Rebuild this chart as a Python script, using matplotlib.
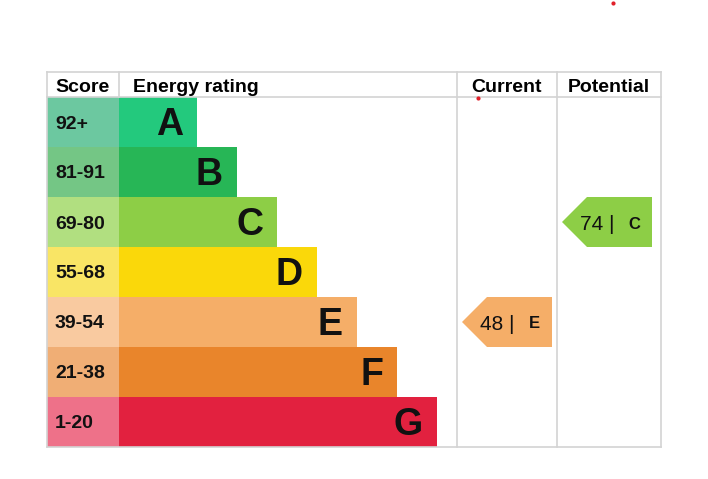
import matplotlib
matplotlib.use("Agg")
import matplotlib.pyplot as plt
from matplotlib.patches import Rectangle, Polygon

plt.rcParams['font.family'] = ['Liberation Sans', 'DejaVu Sans']

letters = ["A", "B", "C", "D", "E", "F", "G"]
score_ranges = ["92+", "81-91", "69-80", "55-68", "39-54", "21-38", "1-20"]
bar_colors = ["#23c97d", "#27b656", "#8dce46", "#fad80a", "#f5ae68", "#e9852b", "#e2213f"]
score_colors = ["#6cc8a0", "#74c685", "#b1df80", "#f9e565", "#f9caa0", "#f0ae75", "#ee7189"]
current_score, current_letter = 48, "E"
potential_score, potential_letter = 74, "C"

W, H = 708, 479
fig = plt.figure(figsize=(W / 100, H / 100), dpi=100)
ax = fig.add_axes([0, 0, 1, 1])
ax.set_xlim(0, W)
ax.set_ylim(H, 0)
ax.axis("off")

left, score_r, bars_r, cur_r, right = 47, 119, 457, 557, 661
top, head_b, row_h = 72, 97, 50
grid = "#d3d3d3"

# rows
for i, (lt, sr, bc, sc) in enumerate(zip(letters, score_ranges, bar_colors, score_colors)):
    y0 = head_b + i * row_h
    ax.add_patch(Rectangle((left, y0), score_r - left, row_h, color=sc, lw=0))
    bar_end = 197 + 40 * i
    ax.add_patch(Rectangle((score_r, y0), bar_end - score_r, row_h, color=bc, lw=0))
    ax.text(left + 8, y0 + row_h / 2 + 2, sr, ha="left", va="center",
            fontsize=14, fontweight="bold", color="#111111")
    ax.text(bar_end - 14, y0 + row_h / 2 + 3, lt, ha="right", va="center",
            fontsize=27, fontweight="bold", color="#111111")

bottom = head_b + len(letters) * row_h

# grid lines
lw = 1.2
ax.plot([left, right], [top, top], color=grid, lw=lw)
ax.plot([left, right], [head_b, head_b], color=grid, lw=lw)
ax.plot([left, right], [bottom, bottom], color=grid, lw=lw)
for x in [left, bars_r, cur_r, right]:
    ax.plot([x, x], [top, bottom], color=grid, lw=lw)
ax.plot([score_r, score_r], [top, head_b], color=grid, lw=lw)

# headers
hy = (top + head_b) / 2 + 3
ax.text(left + 8, hy, "Score", ha="left", va="center", fontsize=14, fontweight="bold")
ax.text(133, hy, "Energy rating", ha="left", va="center", fontsize=14, fontweight="bold")
ax.text((bars_r + cur_r) / 2, hy, "Current", ha="center", va="center", fontsize=14, fontweight="bold")
ax.text((cur_r + right) / 2, hy, "Potential", ha="center", va="center", fontsize=14, fontweight="bold")


def arrow(col_left, score, letter):
    i = letters.index(letter)
    y0 = head_b + i * row_h
    tip = col_left + 5
    r = col_left + 95
    pts = [(tip, y0 + row_h / 2), (tip + 25, y0), (r, y0), (r, y0 + row_h), (tip + 25, y0 + row_h)]
    ax.add_patch(Polygon(pts, closed=True, color=bar_colors[i], lw=0))
    cy = y0 + row_h / 2 + 2
    ax.text(tip + 18, cy, f"{score} |", ha="left", va="center", fontsize=15, color="#111111")
    ax.text(r - 12, cy, letter, ha="right", va="center", fontsize=12, fontweight="bold", color="#111111")


arrow(bars_r, current_score, current_letter)
arrow(cur_r, potential_score, potential_letter)

# small red marks
ax.plot([613], [3], "o", color="#e0202a", ms=3, mew=0)
ax.plot([478], [98], "o", color="#e0202a", ms=3, mew=0)

fig.savefig("out.png", dpi=100)
